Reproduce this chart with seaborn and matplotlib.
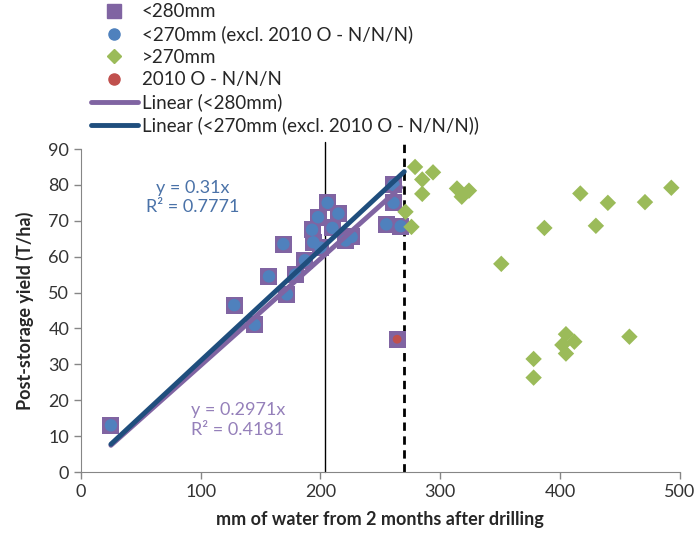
import matplotlib.pyplot as plt
from matplotlib.lines import Line2D
import numpy as np
import pandas as pd
import seaborn as sns

# <280mm points (includes the 2010 O - N/N/N point)
lt280_mm = [25, 128, 145, 157, 169, 172, 179, 187, 193, 194, 198, 200, 206, 210,
            215, 221, 226, 255, 261, 261, 267, 264]
lt280_yield = [13, 46.5, 41, 54.5, 63.5, 49.5, 55, 59, 67.5, 64, 71, 62.5, 75, 68,
               72, 64.5, 65.5, 69, 80, 75, 68.5, 37]

# the odd one out
odd_mm = [264]
odd_yield = [37]

# >270mm points
gt270_mm = [279, 294, 285, 285, 314, 318, 324, 271, 276, 351, 387, 417, 440, 430,
            471, 493, 458, 405, 412, 402, 405, 378, 378]
gt270_yield = [85, 83.5, 81.5, 77.5, 79, 76.7, 78.4, 72.5, 68.3, 58, 68, 77.6, 75,
               68.6, 75.2, 79.2, 37.7, 38.4, 36.3, 35.4, 33, 31.5, 26.3]

slope_280 = 0.2971
r2_280 = 0.4181
slope_270 = 0.31
r2_270 = 0.7771

ref_lines = [204, 270]

PURPLE = '#8064A2'
BLUE = '#4F81BD'
GREEN = '#9BBB59'
RED = '#C0504D'
DARKBLUE = '#1F4E7D'

df280 = pd.DataFrame({'mm': lt280_mm, 'yield': lt280_yield})
df270 = df280[~((df280['mm'] == odd_mm[0]) & (df280['yield'] == odd_yield[0]))]
dfodd = pd.DataFrame({'mm': odd_mm, 'yield': odd_yield})
dfgt = pd.DataFrame({'mm': gt270_mm, 'yield': gt270_yield})

sns.set_style('white')
plt.rcParams['font.family'] = ['Lato', 'DejaVu Sans']

fig = plt.figure(figsize=(6.95, 5.36), dpi=100)
ax = fig.add_axes([0.1165, 0.1194, 0.8615, 0.6026])

sns.scatterplot(data=df280, x='mm', y='yield', marker='s', s=150, color=PURPLE,
                edgecolor='none', ax=ax, zorder=3)
sns.scatterplot(data=df270, x='mm', y='yield', marker='o', s=80, color=BLUE,
                edgecolor='none', ax=ax, zorder=4)
sns.scatterplot(data=dfgt, x='mm', y='yield', marker='D', s=70, color=GREEN,
                edgecolor='none', ax=ax, zorder=4)
sns.scatterplot(data=dfodd, x='mm', y='yield', marker='o', s=40, color=RED,
                edgecolor='none', ax=ax, zorder=5)

# trendlines through origin
xs = np.array([df280['mm'].min(), df280['mm'].max()])
ax.plot(xs, slope_280 * xs, color=PURPLE, lw=3.5, solid_capstyle='round', zorder=6)
xs2 = np.array([df270['mm'].min(), ref_lines[1]])
ax.plot(xs2, slope_270 * xs2, color=DARKBLUE, lw=3.5, solid_capstyle='round', zorder=7)

ax.plot([ref_lines[0], ref_lines[0]], [0, 92], color='black', lw=1, clip_on=False, zorder=2)
ax.plot([ref_lines[1], ref_lines[1]], [0, 92], color='black', lw=2, ls=(0, (3, 2)),
        clip_on=False, zorder=2)

ax.text(93, 76.5, f'y = {slope_270}x\nR² = {r2_270}', color='#4A72A8', fontsize=13,
        ha='center', va='center', linespacing=1.25)
ax.text(131, 14.5, f'y = {slope_280}x\nR² = {r2_280}', color='#9580BA', fontsize=13,
        ha='center', va='center', linespacing=1.25)

ax.set_xlim(0, 500)
ax.set_ylim(0, 90)
ax.set_xticks(range(0, 501, 100))
ax.set_yticks(range(0, 91, 10))
ax.tick_params(axis='both', labelsize=13, length=5, width=1, direction='out',
               left=True, bottom=True, labelcolor='#333333', color='#868686')
sns.despine(ax=ax)
for sp in ['left', 'bottom']:
    ax.spines[sp].set_color('#868686')
ax.set_xlabel('mm of water from 2 months after drilling', fontsize=13, fontweight='bold',
              labelpad=8)
ax.set_ylabel('Post-storage yield (T/ha)', fontsize=13, fontweight='bold', labelpad=10)

handles = [
    Line2D([], [], ls='none', marker='s', ms=10, color=PURPLE),
    Line2D([], [], ls='none', marker='o', ms=8, color=BLUE),
    Line2D([], [], ls='none', marker='D', ms=7, color=GREEN),
    Line2D([], [], ls='none', marker='o', ms=8, color=RED),
    Line2D([], [], color=PURPLE, lw=3.5),
    Line2D([], [], color=DARKBLUE, lw=3.5),
]
labels = ['<280mm', '<270mm (excl. 2010 O - N/N/N)', '>270mm', '2010 O - N/N/N',
          'Linear (<280mm)', 'Linear (<270mm (excl. 2010 O - N/N/N))']
fig.legend(handles, labels, loc='upper left', bbox_to_anchor=(0.112, 1.018), frameon=False,
           fontsize=13.5, handlelength=2.5, handletextpad=0.2, labelspacing=0.28,
           borderpad=0.2)

fig.savefig('out.png', dpi=100)
